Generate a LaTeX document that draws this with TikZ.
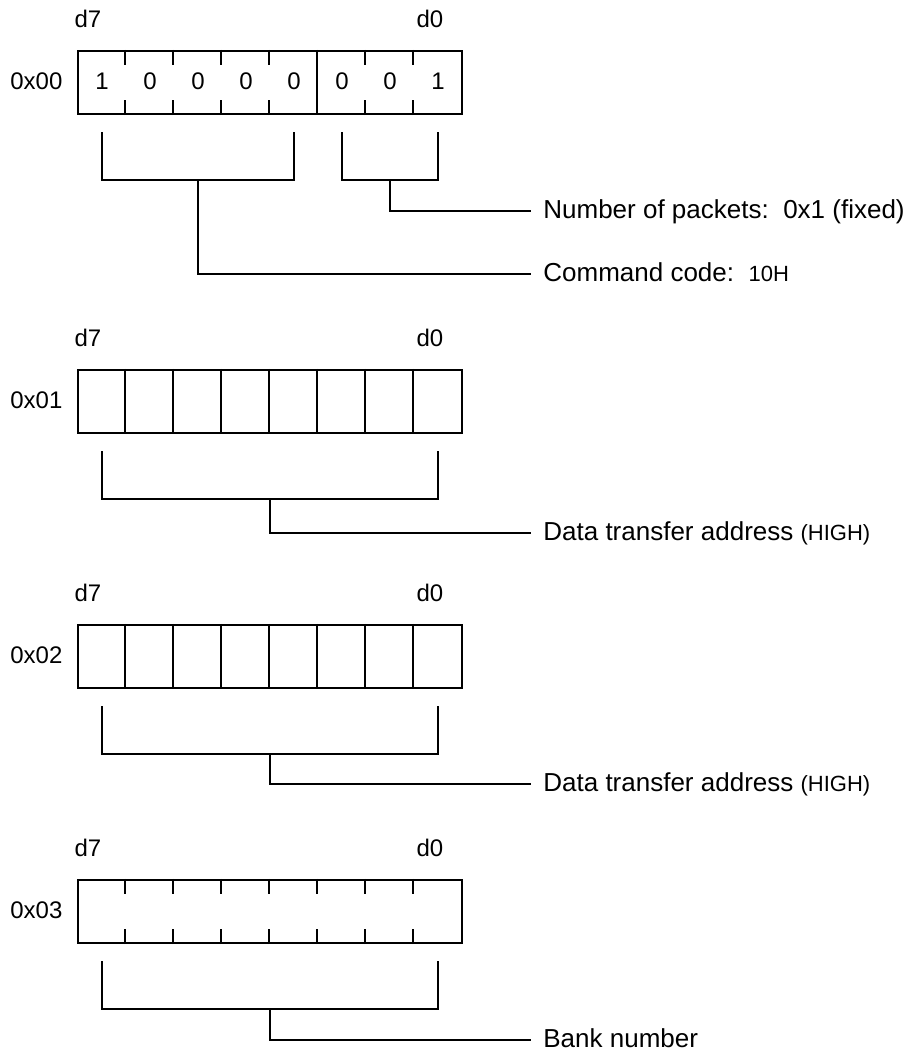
\documentclass[tikz,border=0pt]{standalone}
\usepackage{fontspec}
\setmainfont{Liberation Sans}
\usetikzlibrary{positioning}
\newcommand{\minorsize}{\fontsize{11}{13}\selectfont}

\begin{document}
\begin{tikzpicture}[
  x=0.5pt, y=-0.5pt,
  wire/.style={line width=1.2pt},
  regbox/.style={draw, line width=1.2pt, minimum width=192pt, minimum height=31.5pt, inner sep=0pt},
  addr/.style={font=\fontsize{12}{14}\selectfont, inner sep=0pt, text height=0.72em, text depth=0pt},
  note/.style={font=\fontsize{13}{15}\selectfont, anchor=west, inner xsep=6pt, inner ysep=0pt,
    text height=0.72em, text depth=0pt},
]
\useasboundingbox (0,0) rectangle (910,1051);

% register 0x00
\node[regbox] at (270,82.5) (reg0) {};
\node[addr, left=7pt of reg0] (adr0) {0x00};
\node[addr] at (88,20)  (hi0) {d7};
\node[addr] at (430,20) (lo0) {d0};
\foreach \i in {1,2,3,4,6,7} {
  \draw[wire] ([xshift=24pt*\i]reg0.north west) -- ++(0,15);
  \draw[wire] ([xshift=24pt*\i]reg0.south west) -- ++(0,-15);
}
\draw[wire] ([xshift=120pt]reg0.north west) -- ([xshift=120pt]reg0.south west);
\foreach \b [count=\i] in {1,0,0,0,0,0,0,1}
  \node[addr] at (54+48*\i,82.5) (bit\i) {\b};

\node[note] at (531,211) (count) {Number of packets:\ \ 0x1 (fixed)};
\node[note] at (531,274) (cmd)   {Command code:\ \ {\minorsize 10H}};
\draw[wire] (342,132) |- (438,180) -- (438,132);
\draw[wire] (390,180) |- (count.west);
\draw[wire] (102,132) |- (294,180) -- (294,132);
\draw[wire] (198,180) |- (cmd.west);

% register 0x01
\node[regbox] at (270,401.5) (reg1) {};
\node[addr, left=7pt of reg1] (adr1) {0x01};
\node[addr] at (88,339)  (hi1) {d7};
\node[addr] at (430,339) (lo1) {d0};
\foreach \i in {1,...,7}
  \draw[wire] ([xshift=24pt*\i]reg1.north west) -- ([xshift=24pt*\i]reg1.south west);
\node[note] at (531,533) (xferA) {Data transfer address {\minorsize (HIGH)}};
\draw[wire] (102,451) |- (438,499) -- (438,451);
\draw[wire] (270,499) |- (xferA.west);

% register 0x02
\node[regbox] at (270,656.5) (reg2) {};
\node[addr, left=7pt of reg2] (adr2) {0x02};
\node[addr] at (88,594)  (hi2) {d7};
\node[addr] at (430,594) (lo2) {d0};
\foreach \i in {1,...,7}
  \draw[wire] ([xshift=24pt*\i]reg2.north west) -- ([xshift=24pt*\i]reg2.south west);
\node[note] at (531,784) (xferB) {Data transfer address {\minorsize (HIGH)}};
\draw[wire] (102,706) |- (438,754) -- (438,706);
\draw[wire] (270,754) |- (xferB.west);

% register 0x03
\node[regbox] at (270,911.5) (reg3) {};
\node[addr, left=7pt of reg3] (adr3) {0x03};
\node[addr] at (88,849)  (hi3) {d7};
\node[addr] at (430,849) (lo3) {d0};
\foreach \i in {1,...,7} {
  \draw[wire] ([xshift=24pt*\i]reg3.north west) -- ++(0,15);
  \draw[wire] ([xshift=24pt*\i]reg3.south west) -- ++(0,-15);
}
\node[note] at (531,1040) (bank) {Bank number};
\draw[wire] (102,961) |- (438,1009) -- (438,961);
\draw[wire] (270,1009) |- (bank.west);

\end{tikzpicture}
\end{document}
